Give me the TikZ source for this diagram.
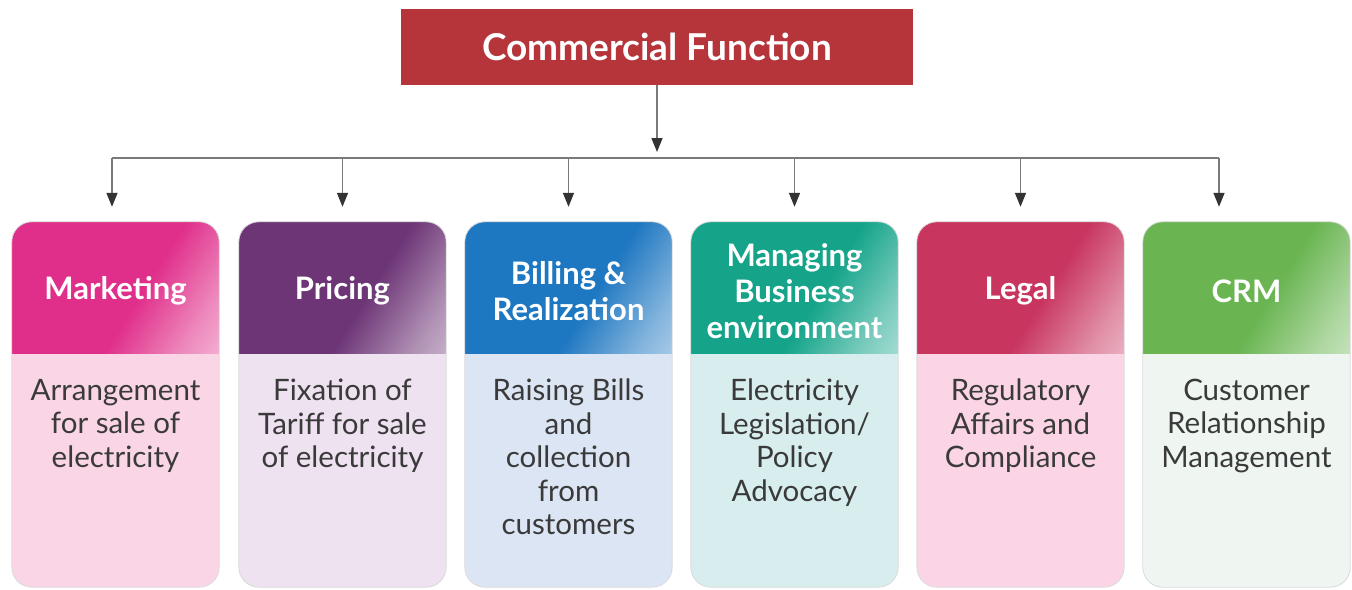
\documentclass[tikz,border=0pt]{standalone}
\usepackage{fontspec}
\setmainfont{Lato}
\usetikzlibrary{arrows.meta}
\definecolor{titlered}{HTML}{B5353B}
\definecolor{mkH}{HTML}{E02F8A}\definecolor{mkB}{HTML}{FAD5E6}
\definecolor{prH}{HTML}{6D3576}\definecolor{prB}{HTML}{EEE1F0}
\definecolor{biH}{HTML}{1E77C1}\definecolor{biB}{HTML}{DCE5F4}
\definecolor{maH}{HTML}{15A48A}\definecolor{maB}{HTML}{D7EDEE}
\definecolor{leH}{HTML}{C83660}\definecolor{leB}{HTML}{FBD5E5}
\definecolor{crH}{HTML}{6AB552}\definecolor{crB}{HTML}{EFF6F1}
\definecolor{txtgray}{HTML}{3A3A3A}
\definecolor{linegray}{HTML}{7A7A7A}
\colorlet{hc}{mkH}
\pgfdeclarehorizontalshading[hc]{hdrshade}{100bp}{color(0bp)=(hc); color(57bp)=(hc); color(76bp)=(hc!55!white); color(100bp)=(hc!12!white)}
\tikzset{
  cardbox/.style={rectangle, rounded corners=20pt, minimum width=207pt, minimum height=365pt, inner sep=0pt},
  cardline/.style={draw=black!15, line width=0.8pt, rounded corners=20pt},
  hdrtext/.style={text=white, font=\bfseries\fontsize{31}{36}\selectfont, align=center, inner sep=0pt},
  bodytext/.style={text=txtgray, font=\fontsize{29.5}{33.5}\selectfont, align=center, inner sep=0pt},
  titlebox/.style={rectangle, fill=titlered, minimum width=512pt, minimum height=76pt, text=white, font=\bfseries\fontsize{37}{40}\selectfont},
  conn/.style={draw=linegray, line width=1.5pt, -{Triangle[length=14pt,width=11pt,color=black!80]}},
  busline/.style={draw=linegray, line width=1.8pt}
}
\newcommand\mycard[6]{%
  \node[cardbox, fill=#4] (#1) at (#2,404.5) {};
  \begin{scope}
    \clip[rounded corners=20pt] (#1.north west) rectangle (#1.south east);
    \colorlet{hc}{#3}
    \shade[shading=hdrshade, shading angle=-32] (#1.north west) rectangle ([yshift=-132pt]#1.north east);
  \end{scope}
  \draw[cardline] (#1.north west) rectangle (#1.south east);
  \node[hdrtext] (#1h) at ([yshift=-69pt]#1.north) {#5};
  \node[bodytext, anchor=north] (#1b) at ([yshift=-157pt]#1.north) {#6};
}
\begin{document}
\begin{tikzpicture}[x=1pt,y=-1pt]
\useasboundingbox (0,0) rectangle (1352,589);
\node[titlebox] (title) at (657,47) {Commercial Function};
\coordinate (busL) at (112,158);
\coordinate (busR) at (1219,158);
\coordinate (busM) at (657,158);
\mycard{c1}{115.5}{mkH}{mkB}{Marketing}{Arrangement\\for sale of\\electricity}
\mycard{c2}{342.5}{prH}{prB}{Pricing}{Fixation of\\Tariff for sale\\of electricity}
\mycard{c3}{568.5}{biH}{biB}{Billing \&\\Realization}{Raising Bills\\and\\collection\\from\\customers}
\mycard{c4}{794.5}{maH}{maB}{Managing\\Business\\environment}{Electricity\\Legislation/\\Policy\\Advocacy}
\mycard{c5}{1020.5}{leH}{leB}{Legal}{Regulatory\\Affairs and\\Compliance}
\mycard{c6}{1246.5}{crH}{crB}{CRM}{Customer\\Relationship\\Management}
\draw[busline] (busL) -- (busR);
\draw[conn, shorten >=6pt] (title.south) -- (busM);
\draw[conn, shorten >=15pt] (busL) -- (busL |- c1.north);
\draw[conn, shorten >=15pt] (c2.north |- busL) -- (c2.north);
\draw[conn, shorten >=15pt] (c3.north |- busL) -- (c3.north);
\draw[conn, shorten >=15pt] (c4.north |- busL) -- (c4.north);
\draw[conn, shorten >=15pt] (c5.north |- busL) -- (c5.north);
\draw[conn, shorten >=15pt] (busR) -- (busR |- c6.north);
\end{tikzpicture}
\end{document}
